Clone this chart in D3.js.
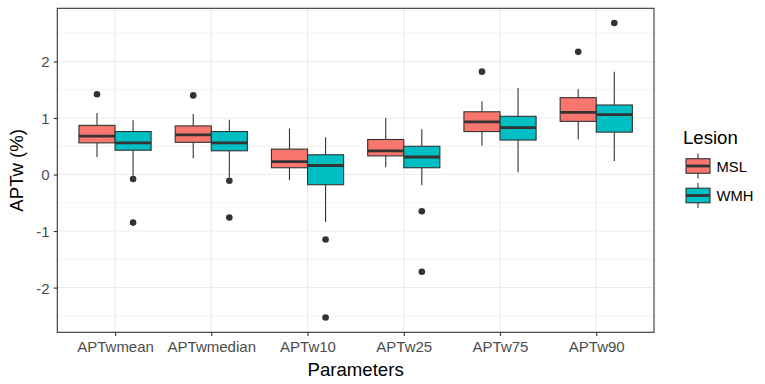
<!DOCTYPE html>
<html><head><meta charset="utf-8">
<script src="https://cdn.jsdelivr.net/npm/d3@7"></script>
<style>
body{margin:0;background:#fff;}
svg{display:block;font-family:"Liberation Sans",Arial,sans-serif;}
</style></head>
<body><svg id="c" width="765" height="384"></svg>
<script>
const categories = ["APTwmean","APTwmedian","APTw10","APTw25","APTw75","APTw90"];
const seriesNames = ["MSL","WMH"];
const seriesColors = ["#F8766D","#00BFC4"];
const yTicks = [-2,-1,0,1,2];
const yMinor = [-2.5,-1.5,-0.5,0.5,1.5,2.5];

// MSL box statistics
const mslLow  = [0.31, 0.29, -0.10, 0.13, 0.51, 0.62];
const mslQ1   = [0.56, 0.57, 0.12, 0.33, 0.76, 0.94];
const mslMed  = [0.68, 0.70, 0.23, 0.42, 0.93, 1.10];
const mslQ3   = [0.87, 0.86, 0.45, 0.62, 1.11, 1.36];
const mslHigh = [1.09, 1.07, 0.81, 1.00, 1.29, 1.51];
const mslOut  = [[1.42],[1.40],[],[],[1.82],[2.17]];

// WMH box statistics
const wmhLow  = [-0.02, -0.05, -0.84, -0.19, 0.04, 0.24];
const wmhQ1   = [0.43, 0.42, -0.18, 0.12, 0.61, 0.75];
const wmhMed  = [0.56, 0.56, 0.16, 0.31, 0.83, 1.06];
const wmhQ3   = [0.76, 0.76, 0.35, 0.50, 1.03, 1.23];
const wmhHigh = [0.96, 0.97, 0.66, 0.80, 1.53, 1.82];
const wmhOut  = [[-0.08,-0.85],[-0.11,-0.76],[-1.15,-2.53],[-0.65,-1.72],[],[2.68]];

const series = [
  {name:seriesNames[0], color:seriesColors[0], low:mslLow, q1:mslQ1, med:mslMed, q3:mslQ3, high:mslHigh, out:mslOut},
  {name:seriesNames[1], color:seriesColors[1], low:wmhLow, q1:wmhQ1, med:wmhMed, q3:wmhQ3, high:wmhHigh, out:wmhOut}
];

const svg = d3.select("#c");
const L = 57.3, R = 654, T = 8.3, B = 332.3;

// y domain with ggplot-style 5% expansion
let all = [];
series.forEach(s => { all = all.concat(s.low, s.high, s.out.flat()); });
const dmin = d3.min(all), dmax = d3.max(all), pad = (dmax - dmin) * 0.05;
const y = d3.scaleLinear().domain([dmin - pad, dmax + pad]).range([B, T]);
const x = d3.scalePoint().domain(categories).range([L, R]).padding(0.6);
const step = x.step();
const boxW = step * 0.375;
const offs = [-step * 0.1875, step * 0.1875];

// background grid
const g = svg.append("g");
g.selectAll(".ymin").data(yMinor).join("line")
  .attr("x1", L).attr("x2", R).attr("y1", d => y(d)).attr("y2", d => y(d))
  .attr("stroke", "#EBEBEB").attr("stroke-width", 0.6);
g.selectAll(".ymaj").data(yTicks).join("line")
  .attr("x1", L).attr("x2", R).attr("y1", d => y(d)).attr("y2", d => y(d))
  .attr("stroke", "#EBEBEB").attr("stroke-width", 1.1);
g.selectAll(".xmaj").data(categories).join("line")
  .attr("y1", T).attr("y2", B).attr("x1", d => x(d)).attr("x2", d => x(d))
  .attr("stroke", "#EBEBEB").attr("stroke-width", 1.1);

// boxes
series.forEach((s, si) => {
  const gg = svg.append("g");
  categories.forEach((c, i) => {
    const cx = x(c) + offs[si];
    gg.append("line").attr("x1", cx).attr("x2", cx)
      .attr("y1", y(s.q3[i])).attr("y2", y(s.high[i])).attr("stroke", "#333").attr("stroke-width", 1.1);
    gg.append("line").attr("x1", cx).attr("x2", cx)
      .attr("y1", y(s.q1[i])).attr("y2", y(s.low[i])).attr("stroke", "#333").attr("stroke-width", 1.1);
    gg.append("rect").attr("x", cx - boxW / 2).attr("width", boxW)
      .attr("y", y(s.q3[i])).attr("height", y(s.q1[i]) - y(s.q3[i]))
      .attr("fill", s.color).attr("stroke", "#333").attr("stroke-width", 1.1);
    gg.append("line").attr("x1", cx - boxW / 2).attr("x2", cx + boxW / 2)
      .attr("y1", y(s.med[i])).attr("y2", y(s.med[i])).attr("stroke", "#333").attr("stroke-width", 2.8);
    s.out[i].forEach(o => {
      gg.append("circle").attr("cx", cx).attr("cy", y(o)).attr("r", 3.3).attr("fill", "#333");
    });
  });
});

// panel border
svg.append("rect").attr("x", L).attr("y", T).attr("width", R - L).attr("height", B - T)
  .attr("fill", "none").attr("stroke", "#333").attr("stroke-width", 1.1);

// axes
const xa = svg.append("g").attr("transform", `translate(0,${B})`)
  .call(d3.axisBottom(x).tickSize(3.6).tickPadding(5));
const ya = svg.append("g").attr("transform", `translate(${L},0)`)
  .call(d3.axisLeft(y).tickValues(yTicks).tickSize(3.6).tickPadding(4).tickFormat(d => String(d)));
[xa, ya].forEach(a => {
  a.select(".domain").remove();
  a.selectAll(".tick line").attr("stroke", "#333").attr("stroke-width", 1.1);
  a.selectAll(".tick text").attr("fill", "#4D4D4D").style("font-size", "15px")
    .style("font-family", "'Liberation Sans',Arial,sans-serif");
});
xa.selectAll(".tick text").attr("dy", null).attr("y", 20.2);
ya.selectAll(".tick text").attr("dy", "0.36em");

// titles
svg.append("text").attr("x", (L + R) / 2).attr("y", 375.5).attr("text-anchor", "middle")
  .style("font-size", "18.6px").attr("fill", "#000").text("Parameters");
svg.append("text").attr("transform", `translate(23,${(T + B) / 2}) rotate(-90)`).attr("text-anchor", "middle")
  .style("font-size", "18.6px").attr("fill", "#000").text("APTw (%)");

// legend
const lg = svg.append("g");
lg.append("text").attr("x", 683).attr("y", 144).style("font-size", "18.6px").attr("fill", "#000").text("Lesion");
series.forEach((s, si) => {
  const cy = 166 + si * 29.5;
  const kx = 698;
  lg.append("line").attr("x1", kx).attr("x2", kx).attr("y1", cy - 12.5).attr("y2", cy + 12.5)
    .attr("stroke", "#333").attr("stroke-width", 1.1);
  lg.append("rect").attr("x", kx - 12).attr("width", 24).attr("y", cy - 7.3).attr("height", 14.6)
    .attr("fill", s.color).attr("stroke", "#333").attr("stroke-width", 1.1);
  lg.append("line").attr("x1", kx - 12).attr("x2", kx + 12).attr("y1", cy).attr("y2", cy)
    .attr("stroke", "#333").attr("stroke-width", 2.8);
  lg.append("text").attr("x", 716.5).attr("y", cy + 5.5).style("font-size", "14.8px").attr("fill", "#000").text(s.name);
});
</script></body></html>
